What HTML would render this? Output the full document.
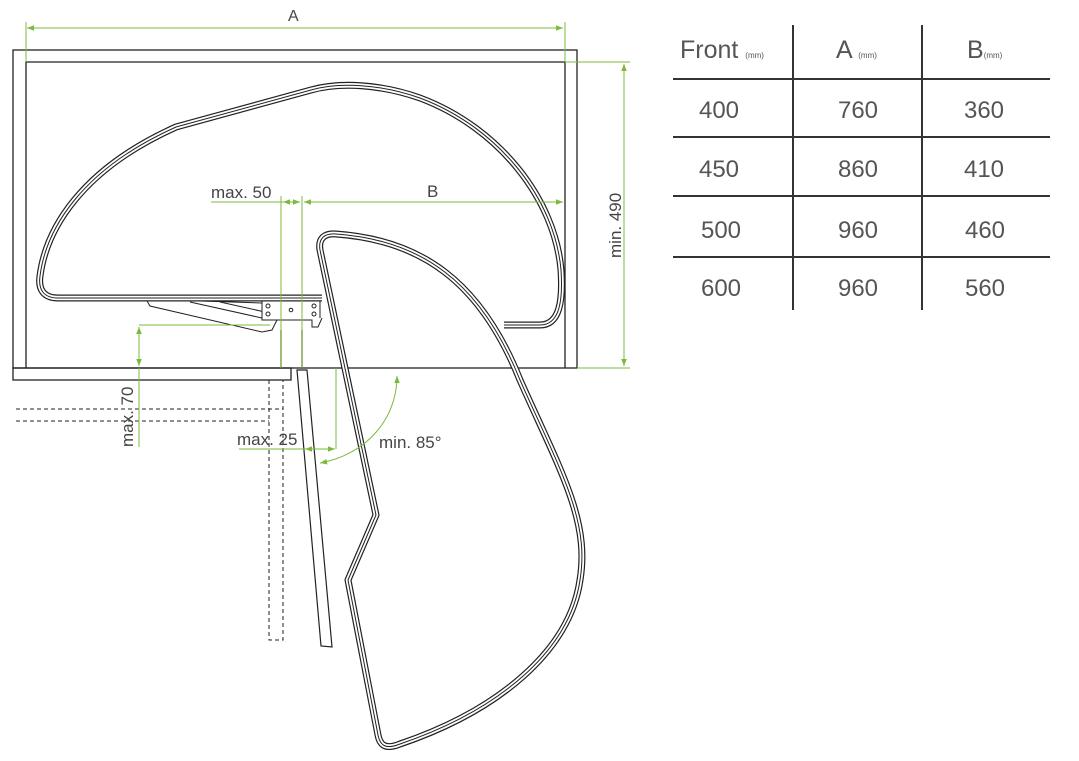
<!DOCTYPE html>
<html><head><meta charset="utf-8"><style>
html,body{margin:0;padding:0;background:#fff;}
svg{display:block;}
text{font-family:"Liberation Sans",sans-serif;}
</style></head><body>
<svg width="1079" height="761" viewBox="0 0 1079 761" xmlns="http://www.w3.org/2000/svg">
<defs>
<marker id="ar" viewBox="0 0 10 10" refX="10" refY="5" markerWidth="9" markerHeight="7" orient="auto-start-reverse" markerUnits="userSpaceOnUse"><path d="M0,1 L10,5 L0,9 z" fill="#7cba3c"/></marker>
<path id="s1" d="M322,298 L58,298 C44,298 38,290 40,276 C46,230 80,170 176,127 L311,90 C340,82 380,84 420,98 C500,128 555,200 561,270 C563,300 560,325 540,325 L504,325"/>
<path id="s2" d="M320,250 C318,238 325,233 336,234 C420,240 480,280 520,380 C560,470 590,520 580,580 C570,650 500,710 400,744 C385,750 380,745 378,735 L348,580 L376,515 Z"/>
</defs>
<!-- cabinet -->
<g fill="none" stroke="#222" stroke-width="1.3">
<rect x="13" y="50" width="564" height="318"/>
<path d="M26,368 V62 H565 V368"/>
<rect x="13" y="368" width="278" height="12"/>
<path d="M281,330 V368 M302,330 V368"/>
</g>
<!-- dashed -->
<g fill="none" stroke="#222" stroke-width="1" stroke-dasharray="4,3">
<path d="M336,368 H577"/>
<path d="M269,380 V640 H283 V380"/>
<path d="M16,409 H283 M16,421 H269"/>
</g>
<!-- door -->
<path d="M297,370 L307,370 L332,647 L321,646 Z" fill="none" stroke="#222" stroke-width="1.2"/>
<!-- top shelf -->
<g fill="none" stroke-linejoin="round" stroke-linecap="butt">
<use href="#s1" stroke="#222" stroke-width="7"/>
<use href="#s1" stroke="#fff" stroke-width="4.6"/>
<use href="#s1" stroke="#222" stroke-width="1"/>
</g>
<!-- mechanism -->
<g fill="#fff" stroke="#222" stroke-width="1">
<path d="M147,301 L150,306 L262,332 L272,330 L278,318 L262,303 L200,301 Z"/>
<path d="M190,302 L262,318 M220,302 L265,312"/>
<rect x="262" y="301" width="58" height="19"/>
<path d="M272,320 H312 V327 H318 L322,318"/>
<circle cx="268" cy="306" r="2"/><circle cx="268" cy="314" r="2"/><circle cx="291" cy="310" r="1.8"/><circle cx="314" cy="306" r="2"/><circle cx="314" cy="314" r="2"/>
</g>
<!-- lower shelf -->
<g fill="none" stroke-linejoin="round">
<use href="#s2" stroke="#222" stroke-width="7"/>
<use href="#s2" stroke="#fff" stroke-width="4.6"/>
<use href="#s2" stroke="#222" stroke-width="1"/>
</g>
<!-- green dims -->
<g fill="none" stroke="#7cba3c" stroke-width="1">
<path d="M26,22 V62 M565,22 V62"/>
<path d="M27,28 H563" marker-start="url(#ar)" marker-end="url(#ar)"/>
<path d="M565,62 H630 M577,368 H630"/>
<path d="M624,64 V366" marker-start="url(#ar)" marker-end="url(#ar)"/>
<path d="M281,196 V368 M302,196 V368"/>
<path d="M211,202 H283"/>
<path d="M283,202 H300" marker-start="url(#ar)" marker-end="url(#ar)"/>
<path d="M304,202 H563" marker-start="url(#ar)" marker-end="url(#ar)"/>
<path d="M139,325 H270"/>
<path d="M139,327 V366" marker-start="url(#ar)" marker-end="url(#ar)"/>
<path d="M139,368 V447"/>
<path d="M336,368 V449"/>
<path d="M239,449 H305"/>
<path d="M305,449 H335" marker-start="url(#ar)" marker-end="url(#ar)"/>
<path d="M397,376 C397,420 365,455 320,463" marker-start="url(#ar)" marker-end="url(#ar)"/>
</g>
<g fill="#444" font-size="17">
<text x="288" y="21" font-size="16">A</text>
<text x="211" y="198">max. 50</text>
<text x="427" y="197">B</text>
<text x="237" y="445">max. 25</text>
<text x="379" y="448">min. 85°</text>
<text transform="translate(621,258) rotate(-90)">min. 490</text>
<text transform="translate(133,447) rotate(-90)">max. 70</text>
</g>
<!-- table -->
<g stroke="#333" stroke-width="2">
<path d="M793,25 V310 M922,25 V310"/>
<path d="M673,79 H1050 M673,137 H1050 M673,196 H1050 M673,257 H1050"/>
</g>
<g fill="#555" font-size="25">
<text x="680" y="58">Front <tspan font-size="8">(mm)</tspan></text>
<text x="836" y="58">A <tspan font-size="8">(mm)</tspan></text>
<text x="967" y="58">B<tspan font-size="8">(mm)</tspan></text>
</g>
<g fill="#555" font-size="24" text-anchor="middle">
<text x="719" y="118">400</text><text x="858" y="118">760</text><text x="984" y="118">360</text>
<text x="719" y="177">450</text><text x="858" y="177">860</text><text x="984" y="177">410</text>
<text x="721" y="238">500</text><text x="858" y="238">960</text><text x="985" y="238">460</text>
<text x="721" y="296">600</text><text x="858" y="296">960</text><text x="985" y="296">560</text>
</g>
</svg>
</body></html>
